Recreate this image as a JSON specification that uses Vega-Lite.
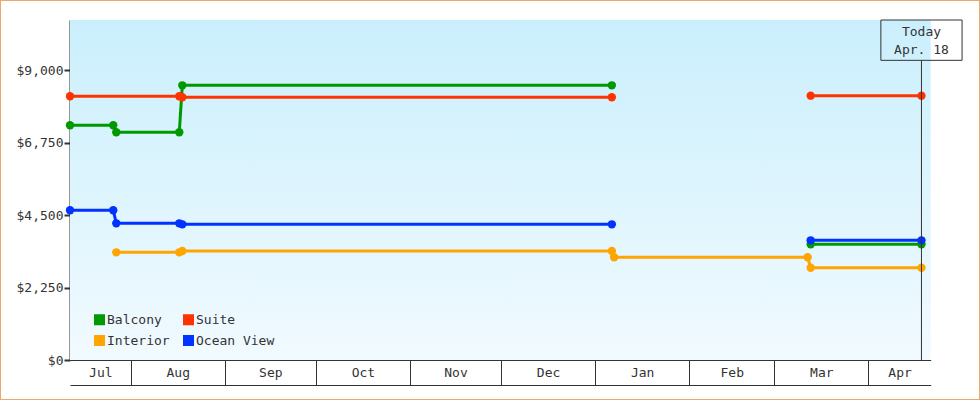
{
  "$schema": "https://vega.github.io/schema/vega-lite/v6.json",
  "width": 980,
  "height": 400,
  "autosize": {"type": "none"},
  "padding": 0,
  "background": "white",
  "config": {
    "view": {"stroke": "#e9a968", "strokeWidth": 2, "fill": null},
    "font": "DejaVu Sans Mono",
    "axis": {"labelFont": "DejaVu Sans Mono", "labelFontSize": 13, "labelColor": "#333333", "zindex": 2}
  },
  "datasets": {
    "prices": [
      {"type": "Balcony", "seg": "A", "date": "2012-07-12T00:00:00", "price": 7284},
      {"type": "Balcony", "seg": "A", "date": "2012-07-26T06:00:00", "price": 7284},
      {"type": "Balcony", "seg": "A", "date": "2012-07-27T06:00:00", "price": 7067},
      {"type": "Balcony", "seg": "A", "date": "2012-08-17T00:00:00", "price": 7067},
      {"type": "Balcony", "seg": "A", "date": "2012-08-18T00:00:00", "price": 8525},
      {"type": "Balcony", "seg": "A", "date": "2013-01-06T12:00:00", "price": 8525},
      {"type": "Balcony", "seg": "B", "date": "2013-03-13T00:00:00", "price": 3590},
      {"type": "Balcony", "seg": "B", "date": "2013-04-18T12:00:00", "price": 3590},
      {"type": "Suite", "seg": "A", "date": "2012-07-12T00:00:00", "price": 8184},
      {"type": "Suite", "seg": "A", "date": "2012-08-17T00:00:00", "price": 8184},
      {"type": "Suite", "seg": "A", "date": "2012-08-18T00:00:00", "price": 8153},
      {"type": "Suite", "seg": "A", "date": "2013-01-06T12:00:00", "price": 8153},
      {"type": "Suite", "seg": "B", "date": "2013-03-13T00:00:00", "price": 8203},
      {"type": "Suite", "seg": "B", "date": "2013-04-18T12:00:00", "price": 8203},
      {"type": "Ocean View", "seg": "A", "date": "2012-07-12T00:00:00", "price": 4646},
      {"type": "Ocean View", "seg": "A", "date": "2012-07-26T06:00:00", "price": 4646},
      {"type": "Ocean View", "seg": "A", "date": "2012-07-27T06:00:00", "price": 4242},
      {"type": "Ocean View", "seg": "A", "date": "2012-08-17T00:00:00", "price": 4242},
      {"type": "Ocean View", "seg": "A", "date": "2012-08-18T00:00:00", "price": 4211},
      {"type": "Ocean View", "seg": "A", "date": "2013-01-06T12:00:00", "price": 4211},
      {"type": "Ocean View", "seg": "B", "date": "2013-03-13T00:00:00", "price": 3714},
      {"type": "Ocean View", "seg": "B", "date": "2013-04-18T12:00:00", "price": 3714},
      {"type": "Interior", "seg": "A", "date": "2012-07-27T06:00:00", "price": 3342},
      {"type": "Interior", "seg": "A", "date": "2012-08-17T00:00:00", "price": 3342},
      {"type": "Interior", "seg": "A", "date": "2012-08-18T00:00:00", "price": 3383},
      {"type": "Interior", "seg": "A", "date": "2013-01-06T12:00:00", "price": 3383},
      {"type": "Interior", "seg": "A", "date": "2013-01-07T06:00:00", "price": 3189},
      {"type": "Interior", "seg": "A", "date": "2013-03-12T00:00:00", "price": 3189},
      {"type": "Interior", "seg": "A", "date": "2013-03-13T00:00:00", "price": 2864},
      {"type": "Interior", "seg": "A", "date": "2013-04-18T12:00:00", "price": 2864}
    ],
    "today": [
      {"date": "2013-04-18T12:00:00", "label": "Today\nApr. 18"}
    ]
  },
  "layer": [
    {
      "data": {"values": [{}]},
      "mark": {
        "type": "rect",
        "color": {
          "gradient": "linear", "x1": 0, "y1": 0, "x2": 0, "y2": 1,
          "stops": [{"offset": 0, "color": "#caeffc"}, {"offset": 1, "color": "#f1faff"}]
        }
      },
      "encoding": {
        "x": {
          "datum": {"year": 2012, "month": 7, "date": 12},
          "type": "temporal",
          "scale": {
            "domain": [{"year": 2012, "month": 7, "date": 12}, {"year": 2013, "month": 4, "date": 21, "hours": 13}],
            "range": [70, 930.7],
            "nice": false
          },
          "axis": {
            "orient": "bottom",
            "offset": -40,
            "values": [
              {"year": 2012, "month": 8, "date": 1},
              {"year": 2012, "month": 9, "date": 1},
              {"year": 2012, "month": 10, "date": 1},
              {"year": 2012, "month": 11, "date": 1},
              {"year": 2012, "month": 12, "date": 1},
              {"year": 2013, "month": 1, "date": 1},
              {"year": 2013, "month": 2, "date": 1},
              {"year": 2013, "month": 3, "date": 1},
              {"year": 2013, "month": 4, "date": 1}
            ],
            "labels": false,
            "ticks": true,
            "tickSize": 25,
            "tickWidth": 1,
            "tickColor": "#333333",
            "domain": true,
            "domainColor": "#333333",
            "domainWidth": 1,
            "grid": false,
            "title": null
          }
        },
        "x2": {"datum": {"year": 2013, "month": 4, "date": 21, "hours": 13}},
        "y": {
          "datum": 0,
          "type": "quantitative",
          "scale": {"domain": [0, 10552], "range": [360, 20], "nice": false, "zero": true},
          "axis": {
            "orient": "left",
            "offset": -70,
            "values": [0, 2250, 4500, 6750, 9000],
            "format": "$,d",
            "labelPadding": 1,
            "labelFontSize": 13,
            "tickSize": 6,
            "tickWidth": 2,
            "tickColor": "#333333",
            "domainColor": "#333333",
            "domainWidth": 2,
            "grid": false,
            "title": null
          }
        },
        "y2": {"datum": 10552}
      }
    },
    {
      "data": {"name": "prices"},
      "mark": {"type": "line", "strokeWidth": 3},
      "encoding": {
        "x": {
          "field": "date",
          "type": "temporal",
          "scale": {
            "domain": [{"year": 2012, "month": 7, "date": 12}, {"year": 2013, "month": 4, "date": 21, "hours": 13}],
            "range": [70, 930.7],
            "nice": false
          },
          "axis": {
            "orient": "bottom",
            "offset": -40,
            "values": [
              {"year": 2012, "month": 7, "date": 22},
              {"year": 2012, "month": 8, "date": 16, "hours": 12},
              {"year": 2012, "month": 9, "date": 16},
              {"year": 2012, "month": 10, "date": 16, "hours": 12},
              {"year": 2012, "month": 11, "date": 16},
              {"year": 2012, "month": 12, "date": 16, "hours": 12},
              {"year": 2013, "month": 1, "date": 16, "hours": 12},
              {"year": 2013, "month": 2, "date": 15},
              {"year": 2013, "month": 3, "date": 16, "hours": 12},
              {"year": 2013, "month": 4, "date": 11, "hours": 7}
            ],
            "format": "%b",
            "ticks": false,
            "tickSize": 0,
            "domain": false,
            "labelBaseline": "alphabetic",
            "labelAlign": "center",
            "labelPadding": 16,
            "labelFontSize": 13,
            "grid": false,
            "title": null
          }
        },
        "y": {
          "field": "price",
          "type": "quantitative",
          "scale": {"domain": [0, 10552], "range": [360, 20], "nice": false, "zero": true},
          "axis": null
        },
        "color": {
          "field": "type",
          "type": "nominal",
          "scale": {
            "domain": ["Balcony", "Interior", "Suite", "Ocean View"],
            "range": ["#009900", "#ffa500", "#ff3300", "#0033ff"]
          },
          "legend": null
        },
        "detail": {"field": "seg"}
      }
    },
    {
      "data": {"name": "prices"},
      "mark": {"type": "point", "filled": true, "size": 70, "opacity": 1, "shape": "circle"},
      "encoding": {
        "x": {
          "field": "date",
          "type": "temporal",
          "scale": {
            "domain": [{"year": 2012, "month": 7, "date": 12}, {"year": 2013, "month": 4, "date": 21, "hours": 13}],
            "range": [70, 930.7],
            "nice": false
          },
          "axis": {
            "orient": "bottom",
            "offset": -15,
            "labels": false,
            "ticks": false,
            "domain": true,
            "domainColor": "#333333",
            "domainWidth": 1,
            "grid": false,
            "title": null
          }
        },
        "y": {
          "field": "price",
          "type": "quantitative",
          "scale": {"domain": [0, 10552], "range": [360, 20], "nice": false, "zero": true},
          "axis": null
        },
        "color": {
          "field": "type",
          "type": "nominal",
          "scale": {
            "domain": ["Balcony", "Interior", "Suite", "Ocean View"],
            "range": ["#009900", "#ffa500", "#ff3300", "#0033ff"]
          },
          "legend": {
            "orient": "none",
            "legendX": 93,
            "legendY": 313,
            "columns": 2,
            "title": null,
            "symbolType": "square",
            "symbolSize": 121,
            "symbolStrokeWidth": 0,
            "symbolOpacity": 1,
            "labelFont": "DejaVu Sans Mono",
            "labelFontSize": 13,
            "labelColor": "#333333",
            "labelOffset": 1,
            "columnPadding": 12,
            "rowPadding": 7,
            "padding": 0,
            "zindex": 3
          }
        }
      }
    },
    {
      "data": {"name": "today"},
      "mark": {"type": "rule", "color": "#333333", "strokeWidth": 1},
      "encoding": {
        "x": {"field": "date", "type": "temporal", "axis": null},
        "y": {"datum": 0, "type": "quantitative", "axis": null},
        "y2": {"datum": 9300}
      }
    },
    {
      "data": {"name": "today"},
      "mark": {"type": "rect", "fill": null, "stroke": "#333333", "strokeWidth": 1},
      "encoding": {
        "x": {"datum": {"year": 2013, "month": 4, "date": 5, "hours": 3}, "type": "temporal", "axis": null},
        "x2": {"datum": {"year": 2013, "month": 5, "date": 1, "hours": 21}},
        "y": {"datum": 9300, "type": "quantitative", "axis": null},
        "y2": {"datum": 10552}
      }
    },
    {
      "data": {"name": "today"},
      "mark": {"type": "text", "font": "DejaVu Sans Mono", "fontSize": 13, "color": "#333333", "align": "center", "baseline": "middle", "lineBreak": "\n", "lineHeight": 18},
      "encoding": {
        "x": {"field": "date", "type": "temporal", "axis": null},
        "y": {"datum": 10180, "type": "quantitative", "axis": null},
        "text": {"field": "label"}
      }
    }
  ],
  "resolve": {"axis": {"x": "independent", "y": "independent"}, "legend": {"color": "independent"}}
}
